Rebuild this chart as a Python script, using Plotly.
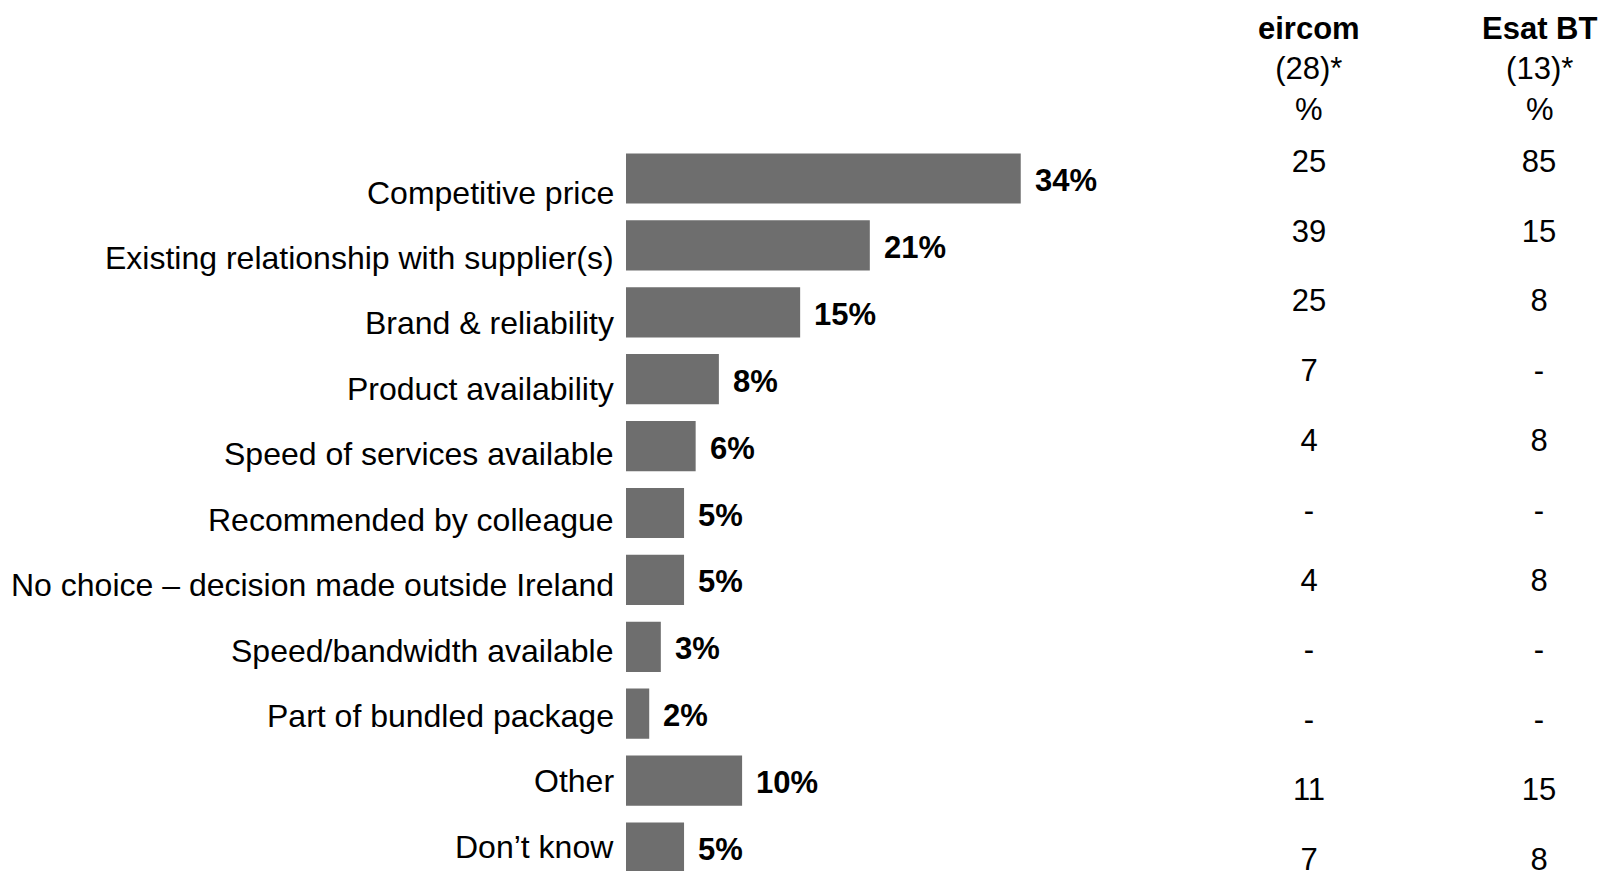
import plotly.graph_objects as go

# Reasons for choosing the current supplier (total sample, %)
categories = [
    "Competitive price",
    "Existing relationship with supplier(s)",
    "Brand & reliability",
    "Product availability",
    "Speed of services available",
    "Recommended by colleague",
    "No choice \u2013 decision made outside Ireland",
    "Speed/bandwidth available",
    "Part of bundled package",
    "Other",
    "Don\u2019t know",
]
total_pct = [34, 21, 15, 8, 6, 5, 5, 3, 2, 10, 5]

# Breakdown by supplier (None shown as "-")
suppliers = ["eircom", "Esat BT"]
supplier_bases = [28, 13]
eircom_pct = [25, 39, 25, 7, 4, None, 4, None, None, 11, 7]
esat_pct = [85, 15, 8, None, 8, None, 8, None, None, 15, 8]

W, H = 1598, 871
FONT = "Liberation Sans, Arial, sans-serif"
FS = 31
FS_CAT = 32
BAR_COLOR = "#6e6e6e"

# Bar panel geometry (pixels)
bar_x0, bar_x1 = 626, 1200
px_per_pct = 11.61
bar_pitch = 66.9
first_bar_center = 178.5

# Category label column geometry (pixels)
label_pitch = 65.42
first_label_center = 192.6

# Table panel geometry (pixels)
tab_x0 = 1200
col_centers = [1309, 1539]
row_pitch = 69.8
first_row_center = 164

idx = list(range(len(categories)))

fig = go.Figure()

fig.add_trace(go.Bar(
    x=total_pct,
    y=idx,
    orientation="h",
    width=0.75,
    marker=dict(color=BAR_COLOR, line=dict(width=0)),
    hoverinfo="skip",
    xaxis="x",
    yaxis="y",
))

# Supplier columns
def fmt(v):
    return "-" if v is None else str(v)

for name, vals in zip(suppliers, [eircom_pct, esat_pct]):
    fig.add_trace(go.Scatter(
        x=[name] * len(vals),
        y=idx,
        mode="text",
        text=[fmt(v) for v in vals],
        textposition="middle center",
        textfont=dict(family=FONT, size=FS, color="#000000"),
        hoverinfo="skip",
        cliponaxis=False,
        xaxis="x2",
        yaxis="y2",
    ))

annotations = []
# Category labels left of the bars
for i, cat in enumerate(categories):
    annotations.append(dict(
        x=0, y=i, xref="x", yref="y3",
        text=cat, showarrow=False,
        xanchor="right", yanchor="middle",
        xshift=-10,
        font=dict(family=FONT, size=FS_CAT, color="#000000"),
    ))
# Value labels right of the bars
for i, v in enumerate(total_pct):
    annotations.append(dict(
        x=v, y=i, xref="x", yref="y",
        text=f"<b>{v}%</b>", showarrow=False,
        xanchor="left", yanchor="middle",
        xshift=12, yshift=-2,
        font=dict(family=FONT, size=FS, color="#000000"),
    ))
# Column headers
header_y = (69 - first_row_center) / row_pitch
for name, base in zip(suppliers, supplier_bases):
    annotations.append(dict(
        x=name, y=header_y, xref="x2", yref="y2",
        text=f"<b>{name}</b><br>({base})*<br>%", showarrow=False,
        xanchor="center", yanchor="middle", align="center",
        font=dict(family=FONT, size=FS, color="#000000"),
    ))

bar_range_max = (bar_x1 - bar_x0) / px_per_pct
y_top = -first_bar_center / bar_pitch
y_bot = (H - first_bar_center) / bar_pitch
y3_top = -first_label_center / label_pitch
y3_bot = (H - first_label_center) / label_pitch
col_pitch = col_centers[1] - col_centers[0]
x2_left = -(col_centers[0] - tab_x0) / col_pitch
x2_right = x2_left + (W - tab_x0) / col_pitch
y2_top = -first_row_center / row_pitch
y2_bot = (H - first_row_center) / row_pitch

hidden = dict(showgrid=False, zeroline=False, showticklabels=False,
              ticks="", showline=False, fixedrange=True)

fig.update_layout(
    width=W, height=H,
    margin=dict(l=0, r=0, t=0, b=0),
    paper_bgcolor="white", plot_bgcolor="white",
    showlegend=False,
    xaxis=dict(domain=[bar_x0 / W, bar_x1 / W], range=[0, bar_range_max], **hidden),
    yaxis=dict(domain=[0, 1], range=[y_bot, y_top], **hidden),
    yaxis3=dict(domain=[0, 1], range=[y3_bot, y3_top], overlaying="y", anchor="x", **hidden),
    xaxis2=dict(domain=[tab_x0 / W, 1], range=[x2_left, x2_right],
                type="category", categoryarray=suppliers, anchor="y2", **hidden),
    yaxis2=dict(domain=[0, 1], range=[y2_bot, y2_top], anchor="x2", **hidden),
    annotations=annotations,
)

fig.write_html("out.html", config={"displayModeBar": False})
